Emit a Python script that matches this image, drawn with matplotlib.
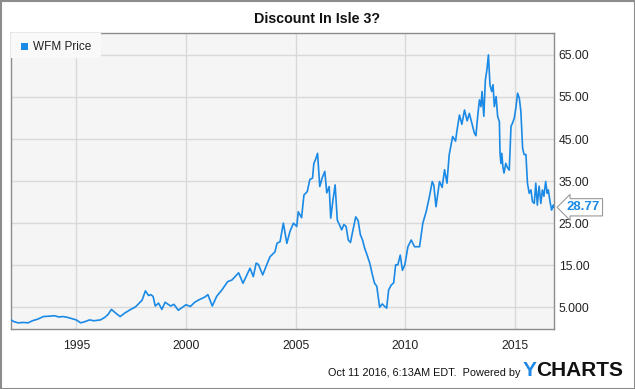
import matplotlib.pyplot as plt
from matplotlib.patches import Rectangle

# WFM price (fractional years)
years = [1992.02, 1992.15, 1992.35, 1992.6, 1992.8, 1993.0, 1993.25, 1993.5, 1993.8, 1994.0,
         1994.2, 1994.4, 1994.6, 1994.8, 1995.0, 1995.2, 1995.4, 1995.6, 1995.8, 1996.1,
         1996.3, 1996.45, 1996.6, 1996.8, 1997.0, 1997.2, 1997.45, 1997.7, 1998.0, 1998.15,
         1998.3, 1998.4, 1998.5, 1998.6, 1998.75, 1998.9, 1999.05, 1999.3, 1999.45, 1999.65,
         2000.0, 2000.2, 2000.4, 2000.6, 2000.85, 2001.0, 2001.2, 2001.4, 2001.65, 2001.9,
         2002.1, 2002.4, 2002.6, 2002.75, 2002.92, 2003.07, 2003.2, 2003.3, 2003.5, 2003.65,
         2003.83, 2004.06, 2004.15, 2004.29, 2004.44, 2004.6, 2004.74, 2004.9, 2005.05, 2005.12,
         2005.27, 2005.38, 2005.53, 2005.65, 2005.77, 2005.83, 2005.9, 2006.0, 2006.1, 2006.22,
         2006.33, 2006.42, 2006.53, 2006.6, 2006.7, 2006.8, 2006.9, 2007.0, 2007.1, 2007.2,
         2007.3, 2007.4, 2007.5, 2007.6, 2007.74, 2007.85, 2007.95, 2008.05, 2008.15, 2008.26,
         2008.38, 2008.5, 2008.6, 2008.7, 2008.83, 2008.95, 2009.06, 2009.15, 2009.24, 2009.36,
         2009.47, 2009.56, 2009.66, 2009.77, 2009.87, 2009.98, 2010.12, 2010.27, 2010.42, 2010.65,
         2010.8, 2010.95, 2011.1, 2011.23, 2011.3, 2011.4, 2011.56, 2011.68, 2011.79, 2011.9,
         2012.0, 2012.16, 2012.29, 2012.35, 2012.47, 2012.58, 2012.7, 2012.82, 2012.92, 2013.05,
         2013.15, 2013.22, 2013.3, 2013.38, 2013.45, 2013.5, 2013.58, 2013.65, 2013.72, 2013.79,
         2013.86, 2013.94, 2014.0, 2014.06, 2014.14, 2014.21, 2014.29, 2014.32, 2014.36, 2014.4,
         2014.45, 2014.5, 2014.58, 2014.66, 2014.74, 2014.82, 2014.89, 2014.97, 2015.05, 2015.12,
         2015.2, 2015.27, 2015.35, 2015.42, 2015.5, 2015.57, 2015.65, 2015.73, 2015.8, 2015.88,
         2015.95, 2016.02, 2016.1, 2016.18, 2016.25, 2016.32, 2016.4, 2016.47, 2016.52, 2016.6,
         2016.67, 2016.75, 2016.78]
prices = [2.0, 1.6, 1.3, 1.4, 1.3, 1.8, 2.2, 2.8, 2.9, 3.0,
          2.7, 2.8, 2.6, 2.3, 2.0, 1.3, 1.6, 2.0, 1.8, 2.0,
          2.6, 3.3, 4.5, 3.6, 2.8, 3.6, 4.4, 5.1, 6.7, 8.9,
          7.8, 8.0, 7.6, 5.3, 6.0, 4.5, 6.2, 5.3, 5.7, 4.3,
          5.6, 5.2, 6.2, 6.8, 7.4, 8.0, 5.3, 7.6, 9.2, 11.1,
          11.5, 13.2, 10.7, 12.4, 14.3, 12.3, 15.5, 15.2, 12.7, 14.7,
          17.0, 18.2, 20.2, 20.6, 25.0, 20.2, 23.0, 25.0, 24.2, 27.7,
          26.3, 31.7, 32.5, 35.4, 35.7, 39.2, 40.0, 41.6, 33.7, 35.9,
          37.3, 32.2, 33.7, 26.2, 30.4, 34.1, 25.7, 24.6, 23.4, 24.7,
          24.2, 21.0, 20.4, 23.0, 26.5, 25.6, 22.3, 21.0, 19.0, 17.4,
          15.5, 12.7, 10.7, 10.0, 5.0, 5.8, 5.2, 4.8, 9.1, 10.3,
          10.8, 15.1, 15.1, 17.4, 13.8, 15.1, 19.4, 21.0, 19.4, 19.4,
          25.0, 27.7, 31.3, 34.9, 34.0, 28.9, 34.9, 33.5, 37.7, 34.5,
          41.2, 45.6, 44.5, 46.8, 50.7, 48.5, 51.9, 49.3, 51.1, 48.5,
          46.4, 45.8, 50.4, 54.3, 52.7, 56.3, 50.4, 59.0, 61.4, 65.0,
          57.9, 56.3, 57.9, 52.7, 55.1, 50.4, 49.1, 41.6, 39.2, 41.6,
          38.4, 36.9, 39.2, 38.2, 37.6, 48.0, 48.8, 50.0, 52.7, 55.9,
          54.7, 51.5, 42.8, 41.3, 41.3, 34.5, 32.1, 32.9, 30.1, 29.7,
          34.5, 29.3, 33.8, 29.7, 32.9, 31.4, 34.9, 32.1, 32.9, 30.1,
          28.1, 29.3, 28.77]

x_ticks = [1995, 2000, 2005, 2010, 2015]
y_ticks = [5, 15, 25, 35, 45, 55, 65]
y_labels = ["5.000", "15.00", "25.00", "35.00", "45.00", "55.00", "65.00"]
last_price = prices[-1]

blue = "#1a8ae6"
plt.rcParams["font.family"] = ["Liberation Sans", "DejaVu Sans"]

fig = plt.figure(figsize=(6.35, 3.89), dpi=100)
ax = fig.add_axes([10.5 / 635, 60 / 389, 543.5 / 635, 296 / 389])

ax.plot(years, prices, color=blue, lw=1.2, zorder=3)

ax.set_xlim(1992.0, 2016.78)
ax.set_ylim(-0.16, 70.2)
ax.set_facecolor("#f5f5f5")
ax.set_xticks(x_ticks)
ax.set_yticks(y_ticks)
ax.set_yticklabels(y_labels)
ax.yaxis.tick_right()
ax.grid(color="#d9d9d9", lw=1)
ax.set_axisbelow(True)
ax.tick_params(length=0, labelsize=8.8, labelcolor="#222222")
ax.tick_params(axis="x", pad=8)
ax.tick_params(axis="y", pad=3.5)
for s in ax.spines.values():
    s.set_color("#8c8c8c")
    s.set_linewidth(1)

# legend box
ax.add_patch(Rectangle((0, 1 - 25 / 296), 90 / 543.5, 25 / 296, transform=ax.transAxes,
                       facecolor="#f9f9f9", edgecolor="none", zorder=4))
ax.add_patch(Rectangle((10.5 / 543.5, 1 - 17 / 296), 7 / 543.5, 7 / 296, transform=ax.transAxes,
                       facecolor=blue, edgecolor="none", zorder=5))
ax.text(22.5 / 543.5, 1 - 13.5 / 296, "WFM Price", transform=ax.transAxes, fontsize=8.5,
        color="#222222", va="center", ha="left", zorder=5)

# last value tag
ax.annotate(f"{last_price:.2f}", xy=(1.0, last_price), xycoords=("axes fraction", "data"),
            xytext=(9, 0), textcoords="offset points", va="center", ha="left",
            fontsize=9.5, fontweight="bold", color=blue,
            bbox=dict(boxstyle="larrow,pad=0.2", fc="white", ec="#999999", lw=0.8))

fig.suptitle("Discount In Isle 3?", x=0.5, y=1 - 19 / 389, va="center",
             fontsize=10.3, fontweight="bold", color="#111111")

fig.text(520 / 635, 1 - 373 / 389, "Oct 11 2016, 6:13AM EDT.  Powered by", ha="right",
         va="center", fontsize=7.8, color="#111111")
fig.text(523 / 635, 1 - 371 / 389, "Y", ha="left", va="center", fontsize=15,
         fontweight="bold", color="#1e88e5")
fig.text(536 / 635, 1 - 371 / 389, "CHARTS", ha="left", va="center", fontsize=15,
         fontweight="bold", color="#111111")

# outer frame
fig.patches.append(Rectangle((0.5 / 635, 0.5 / 389), 634 / 635, 388 / 389, transform=fig.transFigure,
                             fill=False, edgecolor="#8c8c8c", lw=1.5))

fig.savefig("out.png", dpi=100)
